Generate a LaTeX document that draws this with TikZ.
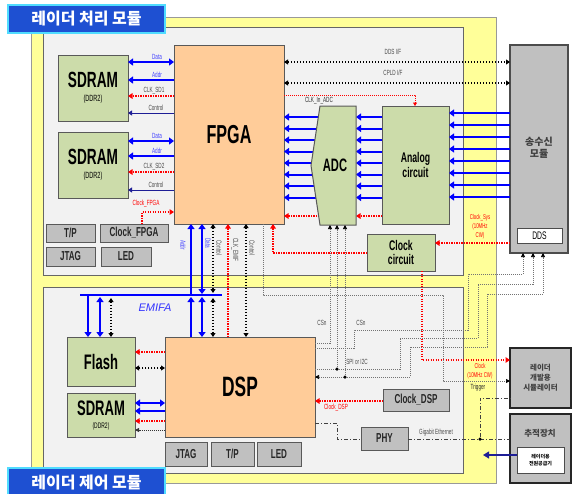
\documentclass[tikz,border=0pt]{standalone}
\usepackage{fontspec}
\setmainfont{Liberation Sans}
\newfontfamily\cnd[FakeStretch=0.62]{Liberation Sans}
\newfontfamily\kr{Noto Sans CJK KR}
\usetikzlibrary{arrows.meta,calc}
\definecolor{yel}{RGB}{255,255,153}
\definecolor{modbg}{RGB}{242,242,242}
\definecolor{grn}{RGB}{204,220,170}
\definecolor{org}{RGB}{255,204,153}
\definecolor{gbox}{RGB}{192,192,192}
\definecolor{ttl}{RGB}{30,80,210}
\definecolor{ttlb}{RGB}{80,220,255}
\definecolor{bl}{RGB}{0,0,255}
\definecolor{nv}{RGB}{30,30,150}
\newcommand\bx[7]{\node[#2, anchor=north west, minimum width={(#5-#3)*1pt}, minimum height={(#6-#4)*1pt}] (#1) at (#3,#4) {#7};}
\tikzset{
  base/.style={inner sep=0pt, outer sep=0pt, align=center},
  mod/.style={base, fill=modbg, draw=black!60, line width=1pt},
  ttlbox/.style={base, fill=ttl, draw=ttlb, line width=1.5pt, text=white, font=\kr\bfseries\fontsize{16}{16}\selectfont},
  gb/.style={base, fill=grn, draw=black!65, line width=1pt},
  ob/.style={base, fill=org, draw=black!65, line width=1pt},
  sb/.style={base, fill=gbox, draw=black!65, line width=1pt, font=\cnd\bfseries\fontsize{13}{13}\selectfont, text=black!85},
  rb/.style={base, fill=gbox, draw=black!70, line width=1.2pt},
  kb/.style={base, fill=gbox, draw=black!85, line width=2pt},
  wb/.style={base, fill=white, draw=black!70, line width=0.8pt},
  ba/.style={draw=bl, line width=2pt, -{Triangle[length=5pt,width=7pt]}},
  bda/.style={draw=bl, line width=2pt, {Triangle[length=5pt,width=7pt]}-{Triangle[length=5pt,width=7pt]}},
  na/.style={draw=nv, line width=1pt, -{Triangle[length=4pt,width=5pt]}},
  rd/.style={draw=red, line width=1.2pt, dash pattern=on 1.3pt off 1.2pt, -{Triangle[length=4.5pt,width=5.5pt]}},
  rdl/.style={draw=red, line width=0.7pt, dash pattern=on 1pt off 1pt},
  kd/.style={draw=black, line width=1.3pt, dash pattern=on 1.5pt off 1.5pt, {Triangle[length=4pt,width=5pt]}-{Triangle[length=4pt,width=5pt]}},
  kds/.style={draw=black!80, line width=0.8pt, dash pattern=on 1pt off 1pt, -{Triangle[length=4pt,width=4pt]}},
  gd/.style={draw=black!55, line width=0.7pt, dash pattern=on 1pt off 1pt},
  gda/.style={gd, -{Triangle[length=4pt,width=4pt,color=black]}},
  dd/.style={draw=black!75, line width=1pt, dash pattern=on 4pt off 2pt on 1pt off 2pt},
  lbl/.style={inner sep=0.5pt, font=\cnd\fontsize{7.5}{7.5}\selectfont, text=black!70},
  bll/.style={lbl, text=bl!75},
  rdlbl/.style={lbl, text=red, align=center},
  dot/.style={circle, fill=black, inner sep=0pt, minimum size=3.5pt},
}
\begin{document}
\begin{tikzpicture}[x=1pt,y=-1pt]
\useasboundingbox (0,0) rectangle (572,493);
% frames
\bx{frame}{base, fill=yel, draw=black!40, line width=1pt}{31}{17}{496}{483}{}
\bx{topm}{mod}{43}{27}{463}{275}{}
\bx{botm}{mod}{43}{287}{463}{473}{}
% right boxes
\bx{trx}{rb}{510}{45}{568}{253}{}
\node[font=\kr\bfseries\fontsize{10}{12}\selectfont, text=black!75, align=center] (trxl) at (539,148) {송수신\\모듈};
\bx{dds}{wb, font=\cnd\fontsize{11}{11}\selectfont}{517}{228}{562}{243}{DDS}
\bx{sim}{kb, font=\kr\bfseries\fontsize{7.5}{10}\selectfont, text=black!75}{510}{348}{571}{408}{레이더\\개발용\\시뮬레이터}
\bx{trk}{kb}{510}{414}{571}{483}{}
\node[font=\kr\bfseries\fontsize{8.5}{9}\selectfont, text=black!75] (trkl) at (540,433) {추적장치};
\bx{pwr}{wb, font=\kr\bfseries\fontsize{5}{6.5}\selectfont}{517}{447}{564}{473}{레이더용\\전원공급기}
% top module boxes
\bx{sd1}{gb}{58}{55}{128}{121}{\cnd\bfseries\fontsize{22}{22}\selectfont SDRAM\\[2pt]\cnd\fontsize{9}{9}\selectfont (DDR2)}
\bx{sd2}{gb}{58}{132}{128}{198}{\cnd\bfseries\fontsize{22}{22}\selectfont SDRAM\\[2pt]\cnd\fontsize{9}{9}\selectfont (DDR2)}
\bx{fpga}{ob, font=\cnd\bfseries\fontsize{26}{26}\selectfont}{174}{45}{284}{224}{FPGA}
\bx{ana}{gb, font=\cnd\bfseries\fontsize{14}{15}\selectfont}{382}{106}{449}{224}{Analog\\circuit}
\bx{clkc}{gb, font=\cnd\bfseries\fontsize{14}{14}\selectfont}{367}{234}{435}{271}{Clock\\circuit}
\bx{tp1}{sb}{46}{224}{95}{242}{T/P}
\bx{clkf}{sb}{100}{224}{168}{242}{Clock\_FPGA}
\bx{jtag1}{sb}{46}{247}{95}{266}{JTAG}
\bx{led1}{sb}{101}{247}{151}{266}{LED}
\node[base, anchor=north west, minimum width=36pt, minimum height=119pt] (adc) at (320,106) {};
% bottom module boxes
\bx{flash}{gb, font=\cnd\bfseries\fontsize{21}{21}\selectfont}{67}{337}{135}{386}{Flash}
\bx{sd3}{gb}{67}{393}{135}{437}{\cnd\bfseries\fontsize{21}{21}\selectfont SDRAM\\[1pt]\cnd\fontsize{8}{8}\selectfont (DDR2)}
\bx{dsp}{ob, font=\cnd\bfseries\fontsize{28}{28}\selectfont}{165}{337}{315}{437}{DSP}
\bx{jtag2}{sb}{165}{442}{207}{466}{JTAG}
\bx{tp2}{sb}{211}{442}{254}{466}{T/P}
\bx{led2}{sb}{257}{442}{301}{466}{LED}
\bx{clkd}{sb}{383}{389}{449}{411}{Clock\_DSP}
\bx{phy}{sb}{361}{427}{408}{450}{PHY}
% SDRAM1 <-> FPGA
\draw[bda] (sd1.east |- 0,62) -- (fpga.west |- 0,62);
\draw[ba] (fpga.west |- 0,80) -- (sd1.east |- 0,80);
\draw[rd] (fpga.west |- 0,96) -- (sd1.east |- 0,96);
\draw[na] (fpga.west |- 0,113) -- (sd1.east |- 0,113);
\node[bll] (l1) at (157,57) {Data};
\node[bll] (l2) at (157,75) {Addr};
\node[lbl] (l3) at (154,91) {CLK\_SD1};
\node[lbl] (l4) at (156,108) {Control};
% SDRAM2 <-> FPGA
\draw[bda] (sd2.east |- 0,141) -- (fpga.west |- 0,141);
\draw[ba] (fpga.west |- 0,156) -- (sd2.east |- 0,156);
\draw[rd] (fpga.west |- 0,172) -- (sd2.east |- 0,172);
\draw[na] (fpga.west |- 0,190) -- (sd2.east |- 0,190);
\node[bll] (l5) at (157,136) {Data};
\node[bll] (l6) at (157,151) {Addr};
\node[lbl] (l7) at (154,167) {CLK\_SD2};
\node[lbl] (l8) at (156,185) {Control};
% Clock_FPGA
\draw[rd] (clkf.north -| 142,0) -- (142,212) -- (fpga.west |- 0,212);
\node[rdlbl] (l9) at (146,204) {Clock\_FPGA};
% DDS / CPLD I/F
\draw[kd] (fpga.east |- 0,62) -- (trx.west |- 0,62);
\draw[kd] (fpga.east |- 0,83) -- (trx.west |- 0,83);
\node[lbl] (l10) at (393,52) {DDS I/F};
\node[lbl] (l11) at (393,73) {CPLD I/F};
% CLK_In_ADC
\draw[rdl, -{Triangle[length=3.5pt,width=4pt]}] (fpga.east |- 0,95) -- (415,95) -- (ana.north -| 415,0);
\node[lbl, text=black!80] (l12) at (319,101) {CLK\_In\_ADC};
% ADC buses
\foreach \y in {117,128.5,140,151.5,163,174.5,186,197.5}{
  \draw[ba] (322,\y) -- (fpga.east |- 0,\y);
  \draw[ba] (ana.west |- 0,\y) -- (adc.east |- 0,\y);
}
\foreach \y in {113,125,137,149,161,173,185,197}{
  \draw[ba] (trx.west |- 0,\y) -- (ana.east |- 0,\y);
}
\draw[rd] (322,216) -- (fpga.east |- 0,216);
\draw[rd] (ana.west |- 0,216) -- (adc.east |- 0,216);
% ADC shape
\draw[fill=grn, draw=black!65, line width=1pt] (adc.north west) -- (adc.north east) -- (adc.south east) -- (adc.south west) -- ($(adc.west)+(-9,0)$) -- cycle;
\node[font=\cnd\bfseries\fontsize{18}{18}\selectfont] (adcl) at ($(adc.center)+(-3,0)$) {ADC};
% clocks
\draw[rd] (trx.west |- 0,243) -- (clkc.east |- 0,243);
\node[rdlbl, font=\cnd\fontsize{7}{9}\selectfont] (l13) at (480,227) {Clock\_Sys\\(10MHz\\CW)};
\draw[rd] (clkc.west |- 0,253) -- (273,253) -- (fpga.south -| 273,0);
\draw[rd] (clkc.south -| 422,0) -- (422,360) -- (sim.west |- 0,360);
\node[rdlbl, font=\cnd\fontsize{7}{9}\selectfont] (l14) at (480,371) {Clock\\(10MHz CW)};
% gray buses
\draw[gda] (dsp.east |- 0,343) -- (330,343) -- (adc.south -| 330,0);
\draw[gda] (dsp.east |- 0,369) -- (400,369) -- (400,338) -- (478,338) -- (478,284) -- (533,284) -- (trx.south -| 533,0);
\draw[gda] (337,369) -- (adc.south -| 337,0);
\draw[gd, {Triangle[length=4pt,width=4pt,color=black]}-{Triangle[length=4pt,width=4pt,color=black]}] (dsp.east |- 0,377) -- (410,377) -- (410,347) -- (487,347) -- (487,294) -- (543,294) -- (trx.south -| 543,0);
\draw[gda] (345,377) -- (adc.south -| 345,0);
\draw[gda] (dsp.east |- 0,348) -- (354,348) -- (354,330) -- (468,330) -- (468,274) -- (523,274) -- (trx.south -| 523,0);
\node[dot] (d1) at (337,369) {};
\node[dot] (d2) at (345,377) {};
\node[lbl] (l15) at (322,323) {CSn};
\node[lbl] (l16) at (361,323) {CSn};
\node[lbl] (l17) at (357,362) {SPI or I2C};
% trigger
\draw[gda] (fpga.south -| 263,0) -- (263,295) -- (443,295) -- (443,381) -- (sim.west |- 0,381);
\node[lbl, text=black!85] (l18) at (478,388) {Trigger};
% Clock_DSP
\draw[rd] (clkd.west |- 0,401) -- (dsp.east |- 0,401);
\node[rdlbl] (l19) at (336,408) {Clock\_DSP};
% ethernet
\draw[dd] (dsp.east |- 0,423) -- (337,423) -- (337,439) -- (phy.west |- 0,439);
\draw[dd] (phy.east |- 0,439) -- (trk.west |- 0,439);
\node[dot] (d3) at (480,439) {};
\draw[dd] (d3) -- (480,398) -- (sim.west |- 0,398);
\node[lbl] (l20) at (436,433) {Gigabit Ethernet};
\coordinate (pwrend) at (483,455);
\draw[na, line width=1.2pt, -{Triangle[length=6pt,width=7pt]}] (pwr.west |- 0,455) -- (pwrend);
% EMIFA
\coordinate (ebl) at (80,295);
\coordinate (ebr) at (222,295);
\draw[draw=bl, line width=2.5pt] (ebl) -- (ebr);
\node[font=\itshape\fontsize{11}{11}\selectfont, text=bl!80] (emifa) at (155,308) {EMIFA};
\draw[ba] (88,295) -- (flash.north -| 88,0);
\draw[bda] (100,297) -- (flash.north -| 100,0);
\draw[kd] (111,298) -- (flash.north -| 111,0);
\draw[rd] (dsp.west |- 0,352) -- (flash.east |- 0,352);
\draw[kd] (dsp.west |- 0,368) -- (flash.east |- 0,368);
\draw[bda] (sd3.east |- 0,403) -- (dsp.west |- 0,403);
\draw[ba] (dsp.west |- 0,411) -- (sd3.east |- 0,411);
\draw[rd] (dsp.west |- 0,421) -- (sd3.east |- 0,421);
\draw[kds] (dsp.west |- 0,430) -- (sd3.east |- 0,430);
% FPGA <-> DSP
\draw[ba] (dsp.north -| 191,0) -- (191,297);
\draw[ba] (191,294) -- (fpga.south -| 191,0);
\draw[bda] (fpga.south -| 202,0) -- (202,294);
\draw[bda] (202,297) -- (dsp.north -| 202,0);
\draw[kd] (fpga.south -| 213,0) -- (213,293);
\draw[kd] (213,298) -- (dsp.north -| 213,0);
\draw[rd] (dsp.north -| 228,0) -- (fpga.south -| 228,0);
\draw[kd] (fpga.south -| 246,0) -- (dsp.north -| 246,0);
\node[bll, rotate=-90] (l21) at (183,245) {Addr};
\node[bll, rotate=-90] (l22) at (208,243) {Data};
\node[lbl, rotate=-90] (l23) at (219,248) {Control};
\node[lbl, rotate=-90] (l24) at (235,250) {CLK\_EMIF};
\node[lbl, rotate=-90] (l25) at (252,248) {Control};
% titles
\bx{t1}{ttlbox}{8}{5}{165}{33}{레이더 처리 모듈}
\bx{t2}{ttlbox}{8}{468}{165}{497}{레이더 제어 모듈}
\end{tikzpicture}
\end{document}
